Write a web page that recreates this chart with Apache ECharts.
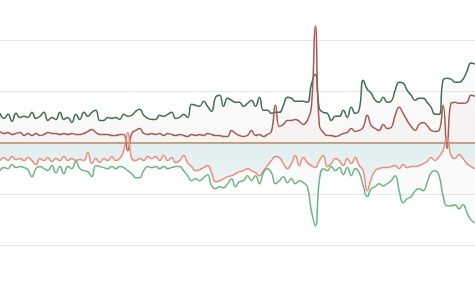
<!DOCTYPE html>
<html>
<head>
<meta charset="utf-8">
<script src="https://cdn.jsdelivr.net/npm/echarts@6/dist/echarts.min.js"></script>
<style>html,body{margin:0;padding:0;background:#fff}#c{width:475px;height:282px}</style>
</head>
<body>
<div id="c"></div>
<script>
const categories = Array.from({length: 120}, (_, i) => String(i + 1));
const upperDark = [29,24,28,21,29,25,26,25,30,24,26,30,22,25,23,30,23,25,20,28,23,30,26,30,32,22,22,25,24,25,23,28,26,27,31,33,27,24,23,23,27,26,28,30,24,25,28,25,38,37,36,41,36,31,45,47,36,44,42,40,40,36,39,42,36,45,32,32,29,30,30,37,45,44,41,41,41,40,58,68,34,30,29,22,26,26,32,25,35,29,33,62,53,49,42,40,45,40,41,52,60,59,52,47,42,44,44,40,35,28,28,62,64,63,60,60,63,71,79,78];
const upperRed = [11,9,10,8,9,10,7,9,7,9,7,8,10,9,9,8,9,8,9,8,8,9,11,13,10,8,8,8,7,7,8,8,-8,9,12,14,9,8,9,8,9,7,9,8,7,8,7,6,8,7,8,7,9,8,7,7,6,6,12,9,7,6,7,12,7,8,6,8,11,37,16,18,22,22,23,21,18,22,35,116,17,10,7,7,6,7,9,10,14,11,12,15,27,17,14,12,18,14,15,27,35,29,22,16,12,18,20,17,12,11,12,37,-6,39,40,39,39,40,47,46];
const lowerSalmon = [-18,-15,-18,-14,-17,-16,-18,-15,-18,-22,-16,-18,-15,-19,-16,-18,-14,-18,-16,-18,-17,-18,-10,-21,-16,-20,-16,-18,-14,-18,-16,-8,10,-16,-18,-16,-18,-14,-16,-14,-18,-13,-18,-15,-20,-18,-13,-20,-24,-28,-27,-25,-23,-30,-39,-38,-36,-34,-33,-31,-29,-28,-26,-28,-30,-33,-28,-23,-18,-14,-15,-21,-26,-21,-13,-23,-15,-20,-23,-25,-18,-13,-24,-21,-16,-18,-23,-16,-21,-15,-23,-28,-48,-36,-28,-26,-25,-25,-24,-23,-26,-22,-25,-24,-24,-23,-21,-19,-15,-18,-14,-8,6,-13,-16,-12,-16,-21,-24,-26];
const lowerGreen = [-28,-25,-26,-22,-25,-24,-25,-27,-34,-26,-24,-26,-28,-23,-30,-24,-31,-24,-26,-19,-26,-28,-29,-34,-23,-24,-25,-26,-24,-26,-24,-25,-28,-31,-35,-35,-28,-24,-25,-24,-26,-24,-26,-25,-24,-24,-28,-33,-38,-36,-38,-35,-32,-43,-46,-44,-45,-41,-36,-44,-39,-38,-33,-38,-33,-41,-30,-26,-30,-41,-38,-34,-40,-36,-41,-38,-40,-44,-68,-83,-38,-26,-28,-24,-28,-25,-32,-25,-33,-26,-30,-43,-54,-46,-44,-41,-43,-41,-38,-33,-48,-60,-56,-54,-48,-46,-48,-40,-30,-28,-33,-53,-63,-63,-62,-66,-62,-70,-77,-80];

const chart = echarts.init(document.getElementById('c'), null, {renderer: 'canvas'});
function mk(name, data, color, area) {
  return {
    name, type: 'line', data, smooth: true, showSymbol: false, symbol: 'none', clip: false,
    lineStyle: {color, width: 1.5}, itemStyle: {color},
    areaStyle: area
  };
}
chart.setOption({
  animation: false,
  grid: {left: 0, right: 0, top: 40, bottom: 37},
  xAxis: {
    type: 'category', data: categories, boundaryGap: false,
    axisLine: {onZero: true, lineStyle: {color: '#c8844f', width: 1.5}},
    axisTick: {show: false}, axisLabel: {show: false}, splitLine: {show: false}
  },
  yAxis: {
    type: 'value', min: -102, max: 102, interval: 51,
    axisLine: {show: false}, axisTick: {show: false}, axisLabel: {show: false},
    splitLine: {lineStyle: {color: '#e6e6e6', width: 1}}
  },
  series: [
    mk('upperDark', upperDark, '#3f6e4e', {color: new echarts.graphic.LinearGradient(0,0,0,1,[{offset:0,color:'rgba(120,120,120,0.04)'},{offset:1,color:'rgba(120,120,120,0.07)'}])}),
    mk('upperRed', upperRed, '#a65a50', {color: 'rgba(190,120,110,0.06)'}),
    mk('lowerSalmon', lowerSalmon, '#ef8b7c', {color: new echarts.graphic.LinearGradient(0,0,0,1,[{offset:0,color:'rgba(110,175,185,0.25)'},{offset:1,color:'rgba(110,175,185,0.12)'}])}),
    mk('lowerGreen', lowerGreen, '#6db582', {color: new echarts.graphic.LinearGradient(0,0,0,1,[{offset:0,color:'rgba(130,190,170,0.10)'},{offset:1,color:'rgba(130,190,170,0.06)'}])})
  ]
});
</script>
</body>
</html>
